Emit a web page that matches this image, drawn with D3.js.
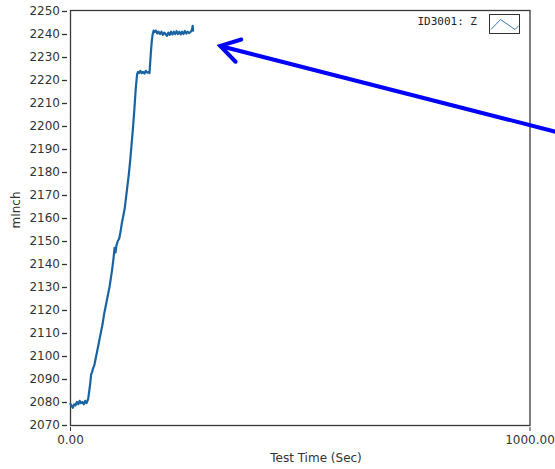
<!DOCTYPE html>
<html>
<head>
<meta charset="utf-8">
<script src="https://cdn.jsdelivr.net/npm/d3@7"></script>
<style>
  body { margin: 0; background: #ffffff; }
  text { font-family: "DejaVu Sans", Verdana, sans-serif; }
</style>
</head>
<body>
<div id="dataviz"></div>
<script>
// chart values
const seriesName = "ID3001: Z";
const timeSec = [
  0, 3, 6, 9, 12, 15, 18, 21, 24, 27, 30, 33, 36, 39,
  40, 42, 44, 46, 48, 50, 53, 56, 59, 62, 65, 68, 71, 74, 77, 80, 83, 86, 89, 92, 95, 97, 99,
  101, 104, 107, 110, 113, 116, 119, 122, 125, 128, 131, 134, 137, 140, 143, 146, 148,
  150, 153, 156, 159, 162, 165, 168, 171, 173,
  174, 176, 178, 180, 182,
  184, 187, 190, 193, 196, 199, 202, 205, 208, 211, 214, 217, 220, 223, 226, 229, 232, 235,
  238, 241, 244, 247, 250, 253, 256, 259, 262, 265, 267, 268
];
const zInch = [
  2079.5, 2078.5, 2077.5, 2079, 2078.5, 2080, 2079, 2080.5, 2079.5, 2080, 2079, 2080.5, 2079.5, 2081,
  2082, 2085, 2088, 2092, 2093, 2094.5, 2096, 2099, 2102, 2105, 2108, 2111, 2114, 2118, 2121, 2124, 2127, 2130, 2134, 2138, 2143, 2147, 2145,
  2148, 2150, 2151, 2154, 2158, 2161, 2164, 2169, 2174, 2179, 2185, 2192, 2199, 2207, 2216, 2222.5, 2223.5,
  2223, 2224, 2223, 2223.5, 2222.8, 2224, 2223.2, 2223.5, 2223,
  2226, 2232, 2237, 2240, 2241.5,
  2240.8, 2241.5, 2240.2, 2241, 2240, 2241, 2239.6, 2240.6, 2240, 2239.2, 2240.6, 2239.6, 2241, 2239.8, 2241, 2240, 2241.2, 2240,
  2241, 2239.8, 2241, 2240, 2241.3, 2240.2, 2241, 2240.4, 2240.8, 2241.6, 2243.5, 2241
];
const xTicks = [0, 1000];
const yTicks = [2070, 2080, 2090, 2100, 2110, 2120, 2130, 2140, 2150, 2160, 2170, 2180,
  2190, 2200, 2210, 2220, 2230, 2240, 2250];
// annotation arrow, in data units (tail runs off the right edge)
const arrowTail = [1057, 2197.5];
const arrowTip = [327, 2234.8];

const data = timeSec.map((t, i) => ({t: t, v: zInch[i]}));

const svg = d3.select("#dataviz")
  .append("svg")
    .attr("width", 555)
    .attr("height", 469);

const xScale = d3.scaleLinear().domain([0, 1000]).range([70, 529.5]);
const yScale = d3.scaleLinear().domain([2070, 2250]).range([425, 11]);

// plot frame
svg.append("rect")
  .attr("x", 70.5).attr("y", 10.5)
  .attr("width", 459.5).attr("height", 415)
  .style("fill", "none")
  .style("stroke", "#3a3a3a")
  .style("stroke-width", 1.3);

// y axis
const yAxis = svg.append("g")
  .attr("transform", "translate(67, 0)")
  .style("font-size", 12)
  .style("color", "#333333")
  .call(d3.axisLeft(yScale).tickValues(yTicks).tickSize(5).tickPadding(2).tickFormat(d3.format("d")));
yAxis.select(".domain").remove();
yAxis.selectAll(".tick line").style("stroke-width", 1.3);

// x axis
const xAxis = svg.append("g")
  .attr("transform", "translate(0, 427)")
  .style("font-size", 12)
  .style("color", "#333333")
  .call(d3.axisBottom(xScale).tickValues(xTicks).tickSize(4).tickPadding(4).tickFormat(d3.format(".2f")));
xAxis.select(".domain").remove();

// axis titles
svg.append("text")
  .attr("x", 316).attr("y", 462)
  .attr("text-anchor", "middle")
  .style("font-size", 12)
  .style("fill", "#333333")
  .text("Test Time (Sec)");

svg.append("text")
  .attr("transform", "translate(20, 210) rotate(-90)")
  .attr("text-anchor", "middle")
  .style("font-size", 12)
  .style("fill", "#333333")
  .text("mInch");

// the series
svg.append("path")
  .datum(data)
  .attr("d", d3.line().x(d => xScale(d.t)).y(d => yScale(d.v)))
  .style("fill", "none")
  .style("stroke", "#1a63a3")
  .style("stroke-width", 2.2)
  .style("stroke-linejoin", "round");

// legend
svg.append("text")
  .attr("x", 477).attr("y", 25)
  .attr("text-anchor", "end")
  .style("font-family", "'DejaVu Sans Mono', monospace")
  .style("font-size", 11)
  .style("fill", "#222222")
  .text(seriesName);

svg.append("rect")
  .attr("x", 489.5).attr("y", 14.5)
  .attr("width", 30).attr("height", 19)
  .style("fill", "#ffffff")
  .style("stroke", "#333333")
  .style("stroke-width", 1);

svg.append("path")
  .attr("d", "M491,29.5L500.5,19.5L515,29.5L519,25.5")
  .style("fill", "none")
  .style("stroke", "#3d7ab3")
  .style("stroke-width", 1);

// arrow annotation
const tail = [xScale(arrowTail[0]), yScale(arrowTail[1])];
const tip = [xScale(arrowTip[0]), yScale(arrowTip[1])];
const ang = Math.atan2(tail[1] - tip[1], tail[0] - tip[0]);
const headLen = 22, spread = 0.55;
svg.append("path")
  .attr("d", d3.line()([tail, tip]))
  .style("stroke", "#0000ff")
  .style("stroke-width", 4)
  .style("fill", "none");
svg.append("path")
  .attr("d", d3.line()([
    [tip[0] + headLen * Math.cos(ang - spread), tip[1] + headLen * Math.sin(ang - spread)],
    tip,
    [tip[0] + headLen * Math.cos(ang + spread), tip[1] + headLen * Math.sin(ang + spread)]
  ]))
  .style("stroke", "#0000ff")
  .style("stroke-width", 4)
  .style("stroke-linecap", "round")
  .style("stroke-linejoin", "miter")
  .style("fill", "none");
</script>
</body>
</html>
